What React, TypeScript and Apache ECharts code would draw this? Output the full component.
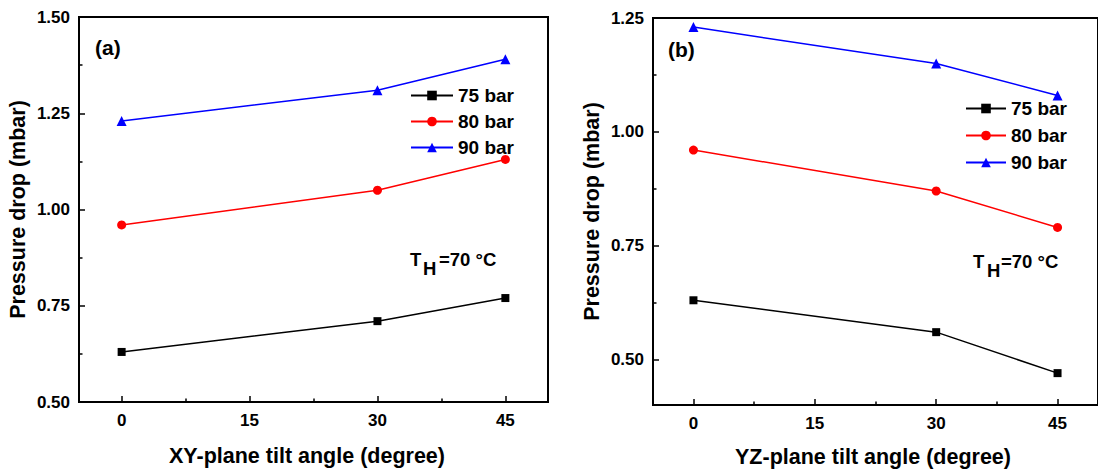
import React, { useEffect, useRef } from "react";
import * as echarts from "echarts";

const angles = [0, 30, 45];
const seriesNames = ["75 bar", "80 bar", "90 bar"];
const colors = ["#000000", "#ff0000", "#0000ff"];
const symbols = ["rect", "circle", "triangle"];
const symbolSizes = [8, 9, 10];

const xyValues = [
  [0.63, 0.71, 0.77],
  [0.96, 1.05, 1.13],
  [1.23, 1.31, 1.39],
];
const yzValues = [
  [0.63, 0.56, 0.47],
  [0.96, 0.87, 0.79],
  [1.23, 1.15, 1.08],
];

const xTicks = [0, 15, 30, 45];
const xMinorTicks = [7.5, 22.5, 37.5];
const yTicksA = [0.5, 0.75, 1.0, 1.25, 1.5];
const yMinorTicksA = [0.625, 0.875, 1.125, 1.375];
const yTicksB = [0.5, 0.75, 1.0, 1.25];
const yMinorTicksB = [0.625, 0.875, 1.125];

const FONT = "'Liberation Sans', Arial, sans-serif";

function mainX(gridIndex: number) {
  return {
    type: "value",
    gridIndex,
    position: "bottom",
    min: -5,
    max: 50,
    axisLine: { show: true, onZero: false, lineStyle: { color: "#000", width: 2 } },
    axisTick: { show: true, inside: true, length: 6, customValues: xTicks, lineStyle: { color: "#000", width: 1.5 } },
    axisLabel: {
      show: true,
      customValues: xTicks,
      margin: 10,
      color: "#000",
      fontSize: 17,
      fontWeight: "bold",
      fontFamily: FONT,
    },
    splitLine: { show: false },
  };
}
function minorX(gridIndex: number) {
  return {
    type: "value",
    gridIndex,
    position: "bottom",
    min: -5,
    max: 50,
    axisLine: { show: false, onZero: false },
    axisTick: { show: true, inside: true, length: 3.5, customValues: xMinorTicks, lineStyle: { color: "#000", width: 1.5 } },
    axisLabel: { show: false },
    splitLine: { show: false },
  };
}
function mainY(gridIndex: number, min: number, max: number, ticks: number[]) {
  return {
    type: "value",
    gridIndex,
    position: "left",
    min,
    max,
    name: "Pressure drop (mbar)",
    nameLocation: "middle",
    nameGap: 50,
    nameTextStyle: { color: "#000", fontSize: 21.5, fontWeight: "bold", fontFamily: FONT },
    axisLine: { show: true, onZero: false, lineStyle: { color: "#000", width: 2 } },
    axisTick: { show: true, inside: true, length: 6, customValues: ticks, lineStyle: { color: "#000", width: 1.5 } },
    axisLabel: {
      show: true,
      customValues: ticks,
      margin: 9,
      color: "#000",
      fontSize: 17,
      fontWeight: "bold",
      fontFamily: FONT,
      formatter: (v: number) => v.toFixed(2),
    },
    splitLine: { show: false },
  };
}
function minorY(gridIndex: number, min: number, max: number, ticks: number[]) {
  return {
    type: "value",
    gridIndex,
    position: "left",
    offset: 0,
    min,
    max,
    axisLine: { show: false, onZero: false },
    axisTick: { show: true, inside: true, length: 3.5, customValues: ticks, lineStyle: { color: "#000", width: 1.5 } },
    axisLabel: { show: false },
    splitLine: { show: false },
  };
}

function makeSeries(values: number[][], xIdx: number, yIdx: number) {
  return values.map((vals, i) => ({
    type: "line",
    name: seriesNames[i],
    xAxisIndex: xIdx,
    yAxisIndex: yIdx,
    data: angles.map((a, j) => [a, vals[j]]),
    symbol: symbols[i],
    symbolSize: symbolSizes[i],
    showSymbol: true,
    itemStyle: { color: colors[i] },
    lineStyle: { color: colors[i], width: 1.5 },
  }));
}

function textEl(text: string, x: number, y: number, size: number, align = "left") {
  return {
    type: "text",
    style: {
      text,
      x,
      y,
      fill: "#000",
      font: `bold ${size}px ${FONT}`,
      textAlign: align,
      textVerticalAlign: "middle",
    },
  };
}

export default function App() {
  const ref = useRef<HTMLDivElement>(null);
  useEffect(() => {
    if (!ref.current) return;
    const chart = echarts.init(ref.current, undefined, { renderer: "svg" });
    const legendCommon = {
      orient: "vertical",
      data: seriesNames,
      selectedMode: false,
      padding: 0,
      textStyle: { color: "#000", fontSize: 19, fontWeight: "bold", fontFamily: FONT, lineHeight: 18 },
      itemHeight: 12,
    };
    chart.setOption({
      animation: false,
      backgroundColor: "#ffffff",
      grid: [
        { left: 79, top: 17, width: 469, height: 385, show: true, borderColor: "#000", borderWidth: 2, backgroundColor: "transparent" },
        { left: 653, top: 18, width: 457, height: 387, show: true, borderColor: "#000", borderWidth: 2, backgroundColor: "transparent" },
      ],
      xAxis: [mainX(0), minorX(0), mainX(1), minorX(1)],
      yAxis: [
        mainY(0, 0.5, 1.5, yTicksA),
        minorY(0, 0.5, 1.5, yMinorTicksA),
        mainY(1, 0.4, 1.25, yTicksB),
        minorY(1, 0.4, 1.25, yMinorTicksB),
      ],
      legend: [
        { ...legendCommon, left: 410, top: 86, itemWidth: 42, itemGap: 7 },
        { ...legendCommon, left: 965, top: 99, itemWidth: 40, itemGap: 8 },
      ],
      graphic: [
        textEl("(a)", 95, 47, 21),
        textEl("(b)", 668, 49, 21),
        textEl("XY-plane tilt angle (degree)", 307, 456, 21.5, "center"),
        textEl("YZ-plane tilt angle (degree)", 873, 457, 21.5, "center"),
        textEl("T", 410, 259.5, 18.5),
        textEl("H", 423, 268, 18.5),
        textEl("=70 °C", 439, 259.5, 18.5),
        textEl("T", 973, 261, 18.5),
        textEl("H", 987, 270, 18.5),
        textEl("=70 °C", 1001, 261, 18.5),
      ],
      series: [...makeSeries(xyValues, 0, 0), ...makeSeries(yzValues, 2, 2)],
    });
    return () => chart.dispose();
  }, []);
  return (
    <div
      ref={ref}
      style={{ position: "absolute", left: 0, top: 0, width: 1098, height: 472, background: "#fff" }}
    />
  );
}
